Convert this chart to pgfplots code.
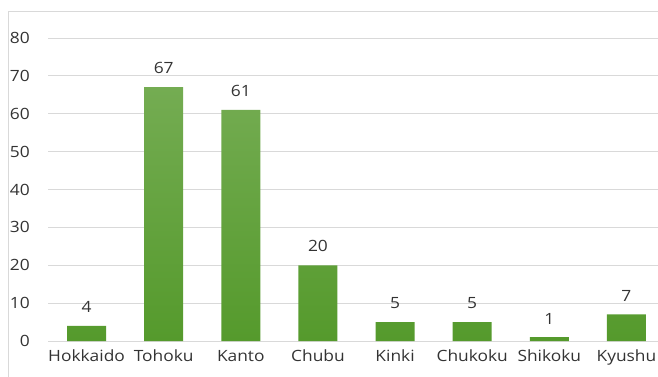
\documentclass[border=0pt]{standalone}
\usepackage{fontspec}
\setmainfont{Open Sans}[FakeStretch=1.12]
\usepackage{pgfplots}
\pgfplotsset{compat=1.18}
\definecolor{gridc}{HTML}{D9D9D9}
\definecolor{txt}{HTML}{333333}
\definecolor{bartop}{HTML}{74AC52}
\definecolor{barbot}{HTML}{559A2C}
\begin{document}
\fontsize{15.5}{18}\selectfont
\begin{tikzpicture}[x=1pt,y=1pt]
\useasboundingbox (-48,-35) rectangle (610,341);
\draw[gridc, line width=1pt] (-39,-40) -- (-39,330) -- (620,330);
\begin{axis}[
  at={(0,0)}, anchor=south west,
  scale only axis, width=617pt, height=303pt,
  xmin=-0.5, xmax=7.5, ymin=0, ymax=80,
  ytick={0,10,...,80},
  xtick={0,...,7},
  xticklabels={Hokkaido,Tohoku,Kanto,Chubu,Kinki,Chukoku,Shikoku,Kyushu},
  axis line style={draw=none},
  major tick length=0pt,
  ymajorgrids, grid style={gridc, line width=1pt},
  /pgf/number format/assume math mode=true,
  tick label style={font=\fontsize{15.5}{18}\selectfont, text=txt},
  yticklabel style={anchor=east, inner sep=0pt, xshift=-18pt},
  xticklabel style={anchor=base, inner sep=0pt, yshift=-20pt},
  nodes near coords,
  nodes near coords style={font=\fontsize{15.5}{18}\selectfont, text=txt, anchor=south, inner sep=0pt, yshift=13pt},
  clip=false,
]
\addplot[ybar, bar width=39pt, draw=none, top color=bartop, bottom color=barbot]
  coordinates {(0,4) (1,67) (2,61) (3,20) (4,5) (5,5) (6,1) (7,7)};
\end{axis}
\end{tikzpicture}
\end{document}
